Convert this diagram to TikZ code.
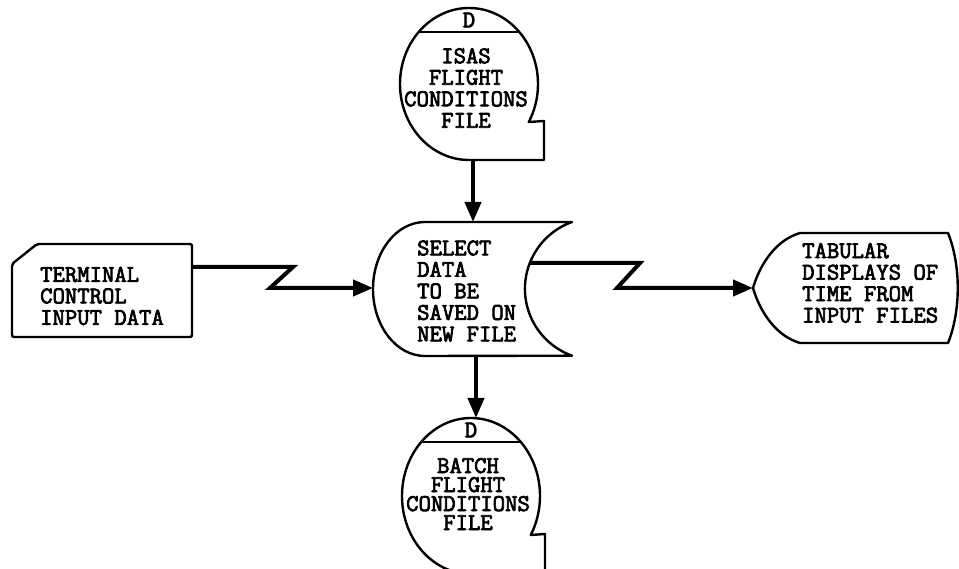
\documentclass[tikz,border=0pt]{standalone}
\usepackage{fontspec}
\newfontfamily\tw{Latin Modern Mono}[FakeBold=3]
\usetikzlibrary{arrows.meta}
\begin{document}
\begin{tikzpicture}[x=1pt,y=-1pt,
  shp/.style={line width=2.4pt, line join=round},
  flow/.style={line width=4pt, -{Triangle[length=20pt,width=16pt]}},
  lbl/.style={font=\tw\fontsize{24}{21.5}\selectfont, inner sep=0pt}]
\useasboundingbox (0,0) rectangle (959,569);
% ---- top file
\draw[shp] (469,160) arc[start angle=90,end angle=390,x radius=69,y radius=76]
  -- (544,121) -- (544,160) -- cycle;
\draw[shp] (419,32) -- (519,32);
\node[lbl] (tfD) at (469,20) {D};
\node[lbl, align=center] (tf) at (466,88) {ISAS\\FLIGHT\\CONDITIONS\\FILE};
\coordinate (tfOut) at (473,160);
% ---- process
\draw[shp] (425,222) -- (572,222) arc[start angle=250.3,end angle=109.7,radius=71]
  -- (425,356) arc[start angle=90,end angle=270,x radius=52,y radius=67] -- cycle;
\node[lbl, align=left, anchor=west] (proc) at (417,291) {SELECT\\DATA\\TO BE\\SAVED ON\\NEW FILE};
\coordinate (pTop) at (473,222);
\coordinate (pBot) at (476,356);
\coordinate (pLeft) at (373,288);
\coordinate (pRight) at (530,263);
% ---- terminal
\draw[shp, rounded corners=2pt] (37,244) -- (192,244) -- (192,337) -- (12,337) -- (12,264) -- cycle;
\node[lbl, align=left, anchor=west] (term) at (40,296) {TERMINAL\\CONTROL\\INPUT DATA};
\coordinate (tOut) at (192,267);
% ---- display
\draw[shp] (800,233) -- (948,233) .. controls (961,265) and (961,311) .. (948,343)
  -- (800,343) .. controls (776,336) and (760,312) .. (753,288)
  .. controls (760,264) and (776,240) .. (800,233) -- cycle;
\node[lbl, align=left, anchor=west] (disp) at (802,283) {TABULAR\\DISPLAYS OF\\TIME FROM\\INPUT FILES};
\coordinate (dIn) at (753,288);
% ---- bottom file
\begin{scope}
\clip (0,0) rectangle (959,569);
\draw[shp] (471,574) arc[start angle=90,end angle=390,x radius=69,y radius=78]
  -- (545,534) -- (545,574) -- cycle;
\end{scope}
\draw[shp] (421,442) -- (521,442);
\node[lbl] (bfD) at (471,430) {D};
\node[lbl, align=center, font=\tw\fontsize{24}{19}\selectfont] (bf) at (468,494) {BATCH\\FLIGHT\\CONDITIONS\\FILE};
\coordinate (bfTop) at (476,418);
% ---- connectors
\draw[flow] (tfOut) -- (pTop);
\draw[flow] (pBot) -- (bfTop);
\draw[flow] (tOut) -- ++(101,0) -- ++(-23,21) -- (pLeft);
\draw[flow] (pRight) -- (640,263) -- (617,288) -- (dIn);
\end{tikzpicture}
\end{document}
